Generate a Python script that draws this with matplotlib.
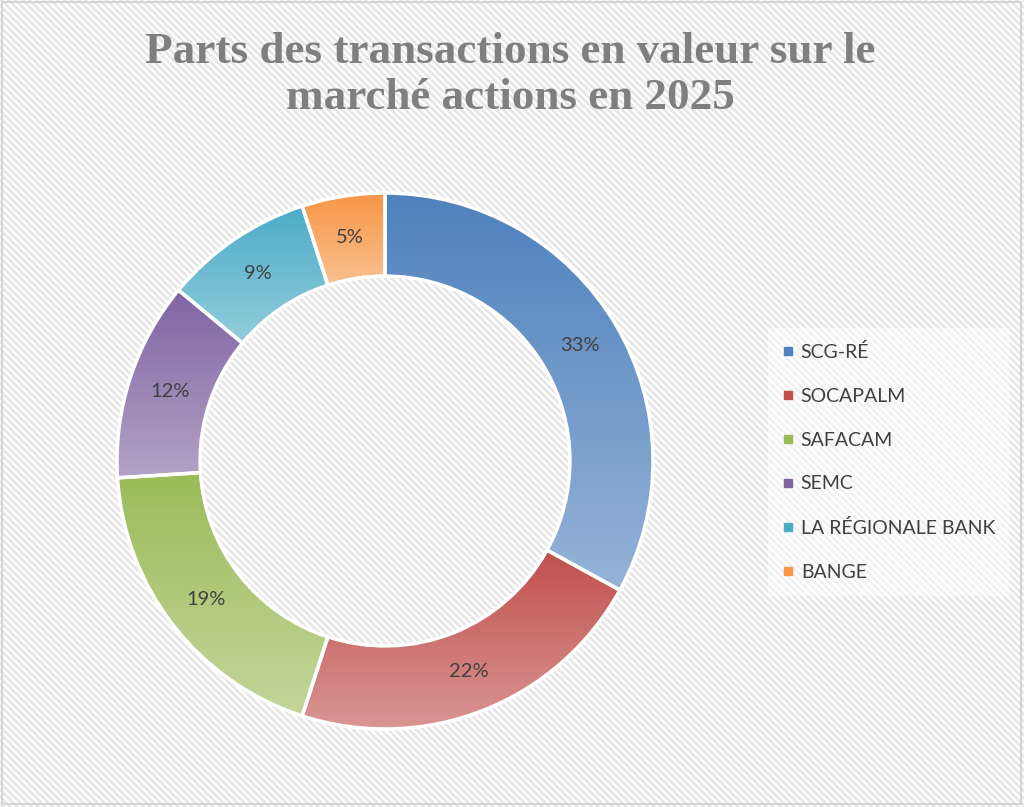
import numpy as np
import matplotlib.pyplot as plt
from matplotlib.colors import LinearSegmentedColormap
from matplotlib.lines import Line2D
from matplotlib.patches import Rectangle

labels = ['SCG-RÉ', 'SOCAPALM', 'SAFACAM', 'SEMC', 'LA RÉGIONALE BANK', 'BANGE']
shares = [33, 22, 19, 12, 9, 5]
dark = ['#4f81bd', '#c0504d', '#9bbb59', '#8064a2', '#4bacc6', '#f79646']
light = ['#95b3d7', '#d99694', '#c3d69b', '#b3a2c7', '#93cddd', '#fac090']
title = 'Parts des transactions en valeur sur le\nmarché actions en 2025'

W, H = 1024, 807
fig = plt.figure(figsize=(W / 100, H / 100), dpi=100)

# striped background
bg = fig.add_axes([0, 0, 1, 1])
yy, xx = np.mgrid[0:H, 0:W]
stripes = ((xx - yy) % 7) < 4
img = np.where(stripes[..., None], np.array([0.91, 0.91, 0.91]), np.array([1.0, 1.0, 1.0]))
bg.imshow(img, extent=(0, W, H, 0), interpolation='nearest', aspect='auto')
bg.add_patch(Rectangle((2, 2), W - 5, H - 5, fill=False, edgecolor='#d4d4d4', lw=1.5))
bg.set_xlim(0, W)
bg.set_ylim(H, 0)
bg.axis('off')

fig.text(510 / W, 1 - 75 / H, title, ha='center', va='center', fontsize=32.5,
         fontweight='bold', family='Liberation Serif', color='#7f7f7f', linespacing=1.22)

# donut
cx, cy, r = 385, 461, 268
half = 280
ax = fig.add_axes([(cx - half) / W, 1 - (cy + half) / H, 2 * half / W, 2 * half / H])
ax.set_facecolor('none')
lim = half / r
wedges, texts, pcts = ax.pie(shares, startangle=90, counterclock=False, radius=1,
                             autopct='%.0f%%', pctdistance=0.845,
                             wedgeprops=dict(width=0.31, edgecolor='white', linewidth=2.5),
                             textprops=dict(color='#404040', fontsize=14.5, family='Lato'))
for w, c0, c1 in zip(wedges, dark, light):
    ext = w.get_path().get_extents()
    cmap = LinearSegmentedColormap.from_list('g', [c0, c1])
    grad = np.linspace(0, 1, 256).reshape(-1, 1)
    im = ax.imshow(grad, cmap=cmap, extent=(ext.x0, ext.x1, ext.y0, ext.y1),
                   origin='upper', aspect='auto', zorder=1, interpolation='bilinear')
    im.set_clip_path(w)
    w.set_facecolor('none')
    w.set_zorder(2)
for t in pcts:
    t.set_zorder(3)
ax.set_xlim(-lim, lim)
ax.set_ylim(-lim, lim)
ax.set_aspect('equal')
ax.axis('off')

handles = [Line2D([], [], marker='s', ls='none', markersize=6,
                  markerfacecolor=c, markeredgecolor=c) for c in dark]
leg = fig.legend(handles, labels, loc='center left', bbox_to_anchor=(758 / W, 1 - 462 / H),
                 frameon=True, labelspacing=1.38, handlelength=0.6,
                 handletextpad=0.35, borderpad=0.75, prop=dict(family='Lato', size=14))
for t in leg.get_texts():
    t.set_color('#404040')
leg.get_frame().set_facecolor('white')
leg.get_frame().set_alpha(0.45)
leg.get_frame().set_edgecolor('none')
leg.get_frame().set_boxstyle('square', pad=0)

fig.savefig('out.png', dpi=100)
